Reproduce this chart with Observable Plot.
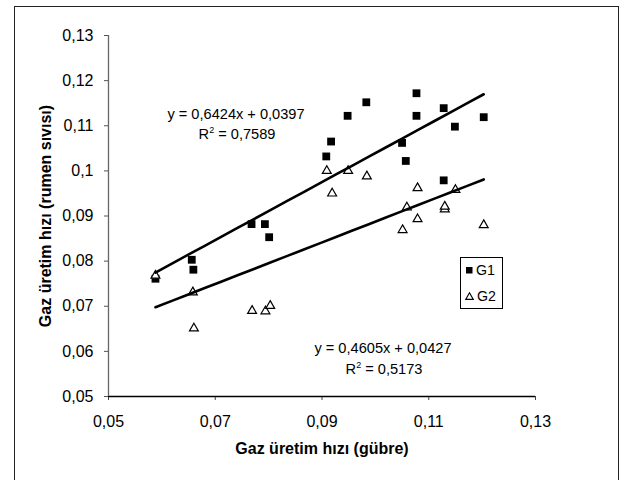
<!DOCTYPE html>
<html><head><meta charset="utf-8">
<script src="https://cdn.jsdelivr.net/npm/d3@7"></script>
<script src="https://cdn.jsdelivr.net/npm/@observablehq/plot@0.6"></script>
<style>
body{margin:0;background:#fff;font-family:"Liberation Sans",Arial,sans-serif;}
#wrap{position:relative;width:626px;height:480px;overflow:hidden;background:#fff;}
#frame{position:absolute;left:14px;top:6px;width:605px;height:520px;border:1.5px solid #222;box-sizing:border-box;pointer-events:none;}
.lbl{position:absolute;font-size:14.6px;color:#000;white-space:nowrap;transform:translate(-50%,-50%);line-height:1;}
.lbl sup{font-size:9px;vertical-align:6px;line-height:0;}
#legend{position:absolute;left:460px;top:257px;width:43px;height:52px;border:1px solid #000;box-sizing:border-box;background:#fff;font-size:14.2px;}
#legend .row{position:absolute;left:4px;height:16px;display:flex;align-items:center;}
#legend .row span{margin-left:3px;}
</style></head>
<body>
<div id="wrap"></div>
<script>
// ---- data ----
const seriesNames = ["G1", "G2"];
const g1X = [0.0588, 0.0656, 0.0659, 0.0768, 0.0793, 0.0801, 0.0908, 0.0917, 0.0948, 0.0983, 0.1050, 0.1057, 0.1077, 0.1077, 0.1128, 0.1128, 0.1149, 0.1203];
const g1Y = [0.0761, 0.0803, 0.0781, 0.0882, 0.0882, 0.0853, 0.1032, 0.1065, 0.1122, 0.1152, 0.1062, 0.1022, 0.1172, 0.1122, 0.1139, 0.0979, 0.1098, 0.1119];
const g2X = [0.0588, 0.0658, 0.0660, 0.0769, 0.0794, 0.0803, 0.0909, 0.0919, 0.0949, 0.0984, 0.1051, 0.1059, 0.1079, 0.1079, 0.1130, 0.1130, 0.1150, 0.1203];
const g2Y = [0.0768, 0.0731, 0.0651, 0.0690, 0.0689, 0.0701, 0.1000, 0.0950, 0.1000, 0.0988, 0.0869, 0.0919, 0.0962, 0.0893, 0.0915, 0.0921, 0.0958, 0.0880];
const trendSlope = [0.6424, 0.4605];
const trendIntercept = [0.0397, 0.0427];
const trendR2 = [0.7589, 0.5173];
const xTicks = [0.05, 0.07, 0.09, 0.11, 0.13];
const yTicks = [0.05, 0.06, 0.07, 0.08, 0.09, 0.10, 0.11, 0.12, 0.13];
const xTitle = "Gaz üretim hızı (gübre)";
const yTitle = "Gaz üretim hızı (rumen sıvısı)";

// ---- build ----
const comma = v => d3.format("~g")(v).replace(".", ",");
const fmt4 = v => v.toFixed(4).replace(".", ",");
const g1 = g1X.map((x, i) => ({x, y: g1Y[i], s: seriesNames[0]}));
const g2 = g2X.map((x, i) => ({x, y: g2Y[i], s: seriesNames[1]}));
const allX = [g1X, g2X];
const trend = [];
seriesNames.forEach((s, k) => {
  const [lo, hi] = d3.extent(allX[k]);
  const xs = d3.range(0, 21).map(i => lo + (hi - lo) * i / 20);
  xs.forEach(x => trend.push({s, x, y: trendSlope[k] * x + trendIntercept[k]}));
});

const FONT = '"Liberation Sans", Arial, sans-serif';
const chart = Plot.plot({
  width: 626, height: 480,
  marginLeft: 108, marginRight: 91, marginTop: 35, marginBottom: 84,
  style: {fontFamily: FONT, fontSize: "16px", color: "#000", background: "transparent"},
  x: {domain: [0.05, 0.13]},
  y: {domain: [0.05, 0.13]},
  marks: [
    Plot.axisX({ticks: xTicks, tickFormat: comma, tickSize: 4, tickPadding: 15, label: null, stroke: "#444", fontSize: 16}),
    Plot.axisY({ticks: yTicks, tickFormat: comma, tickSize: 4, tickPadding: 11, label: null, stroke: "#555", fontSize: 16}),
    Plot.ruleY([0.05], {stroke: "#000", strokeWidth: 1.3}),
    Plot.ruleX([0.05], {stroke: "#666", strokeWidth: 1.3}),
    Plot.dot(g1, {x: "x", y: "y", symbol: "square", r: 4.4, fill: "#000", stroke: "none"}),
    Plot.dot(g2, {x: "x", y: "y", symbol: "triangle", r: 3.3, fill: "#fff", stroke: "#000", strokeWidth: 1.2}),
    Plot.line(trend, {x: "x", y: "y", z: "s", stroke: "#000", strokeWidth: 2.6}),
    Plot.text([xTitle], {frameAnchor: "bottom", dy: 57, text: d => d, fontWeight: "bold", fontSize: 16}),
    Plot.text([yTitle], {frameAnchor: "left", dx: -63, rotate: -90, textAnchor: "middle", text: d => d, fontWeight: "bold", fontSize: 16})
  ]
});

const wrap = document.getElementById("wrap");
wrap.appendChild(chart);

// equation labels
const eqPos = [[[236, 114], [237, 134]], [[383, 348], [384, 369]]];
seriesNames.forEach((s, k) => {
  const a = document.createElement("div");
  a.className = "lbl";
  a.style.left = eqPos[k][0][0] + "px"; a.style.top = eqPos[k][0][1] + "px";
  a.textContent = `y = ${fmt4(trendSlope[k])}x + ${fmt4(trendIntercept[k])}`;
  wrap.appendChild(a);
  const b = document.createElement("div");
  b.className = "lbl";
  b.style.left = eqPos[k][1][0] + "px"; b.style.top = eqPos[k][1][1] + "px";
  b.innerHTML = `R<sup>2</sup> = ${fmt4(trendR2[k])}`;
  wrap.appendChild(b);
});

// legend
const leg = document.createElement("div");
leg.id = "legend";
const sq = '<svg width="8" height="8"><rect x="1" y="1" width="6.5" height="6.5" fill="#000"/></svg>';
const tri = '<svg width="9" height="8"><path d="M4.5 0.8 L8.3 7.4 L0.7 7.4 Z" fill="#fff" stroke="#000" stroke-width="1.1"/></svg>';
leg.innerHTML = `<div class="row" style="top:4px">${sq}<span>${seriesNames[0]}</span></div>` +
                `<div class="row" style="top:30px">${tri}<span>${seriesNames[1]}</span></div>`;
wrap.appendChild(leg);

const frame = document.createElement("div");
frame.id = "frame";
wrap.appendChild(frame);
</script>
</body></html>
